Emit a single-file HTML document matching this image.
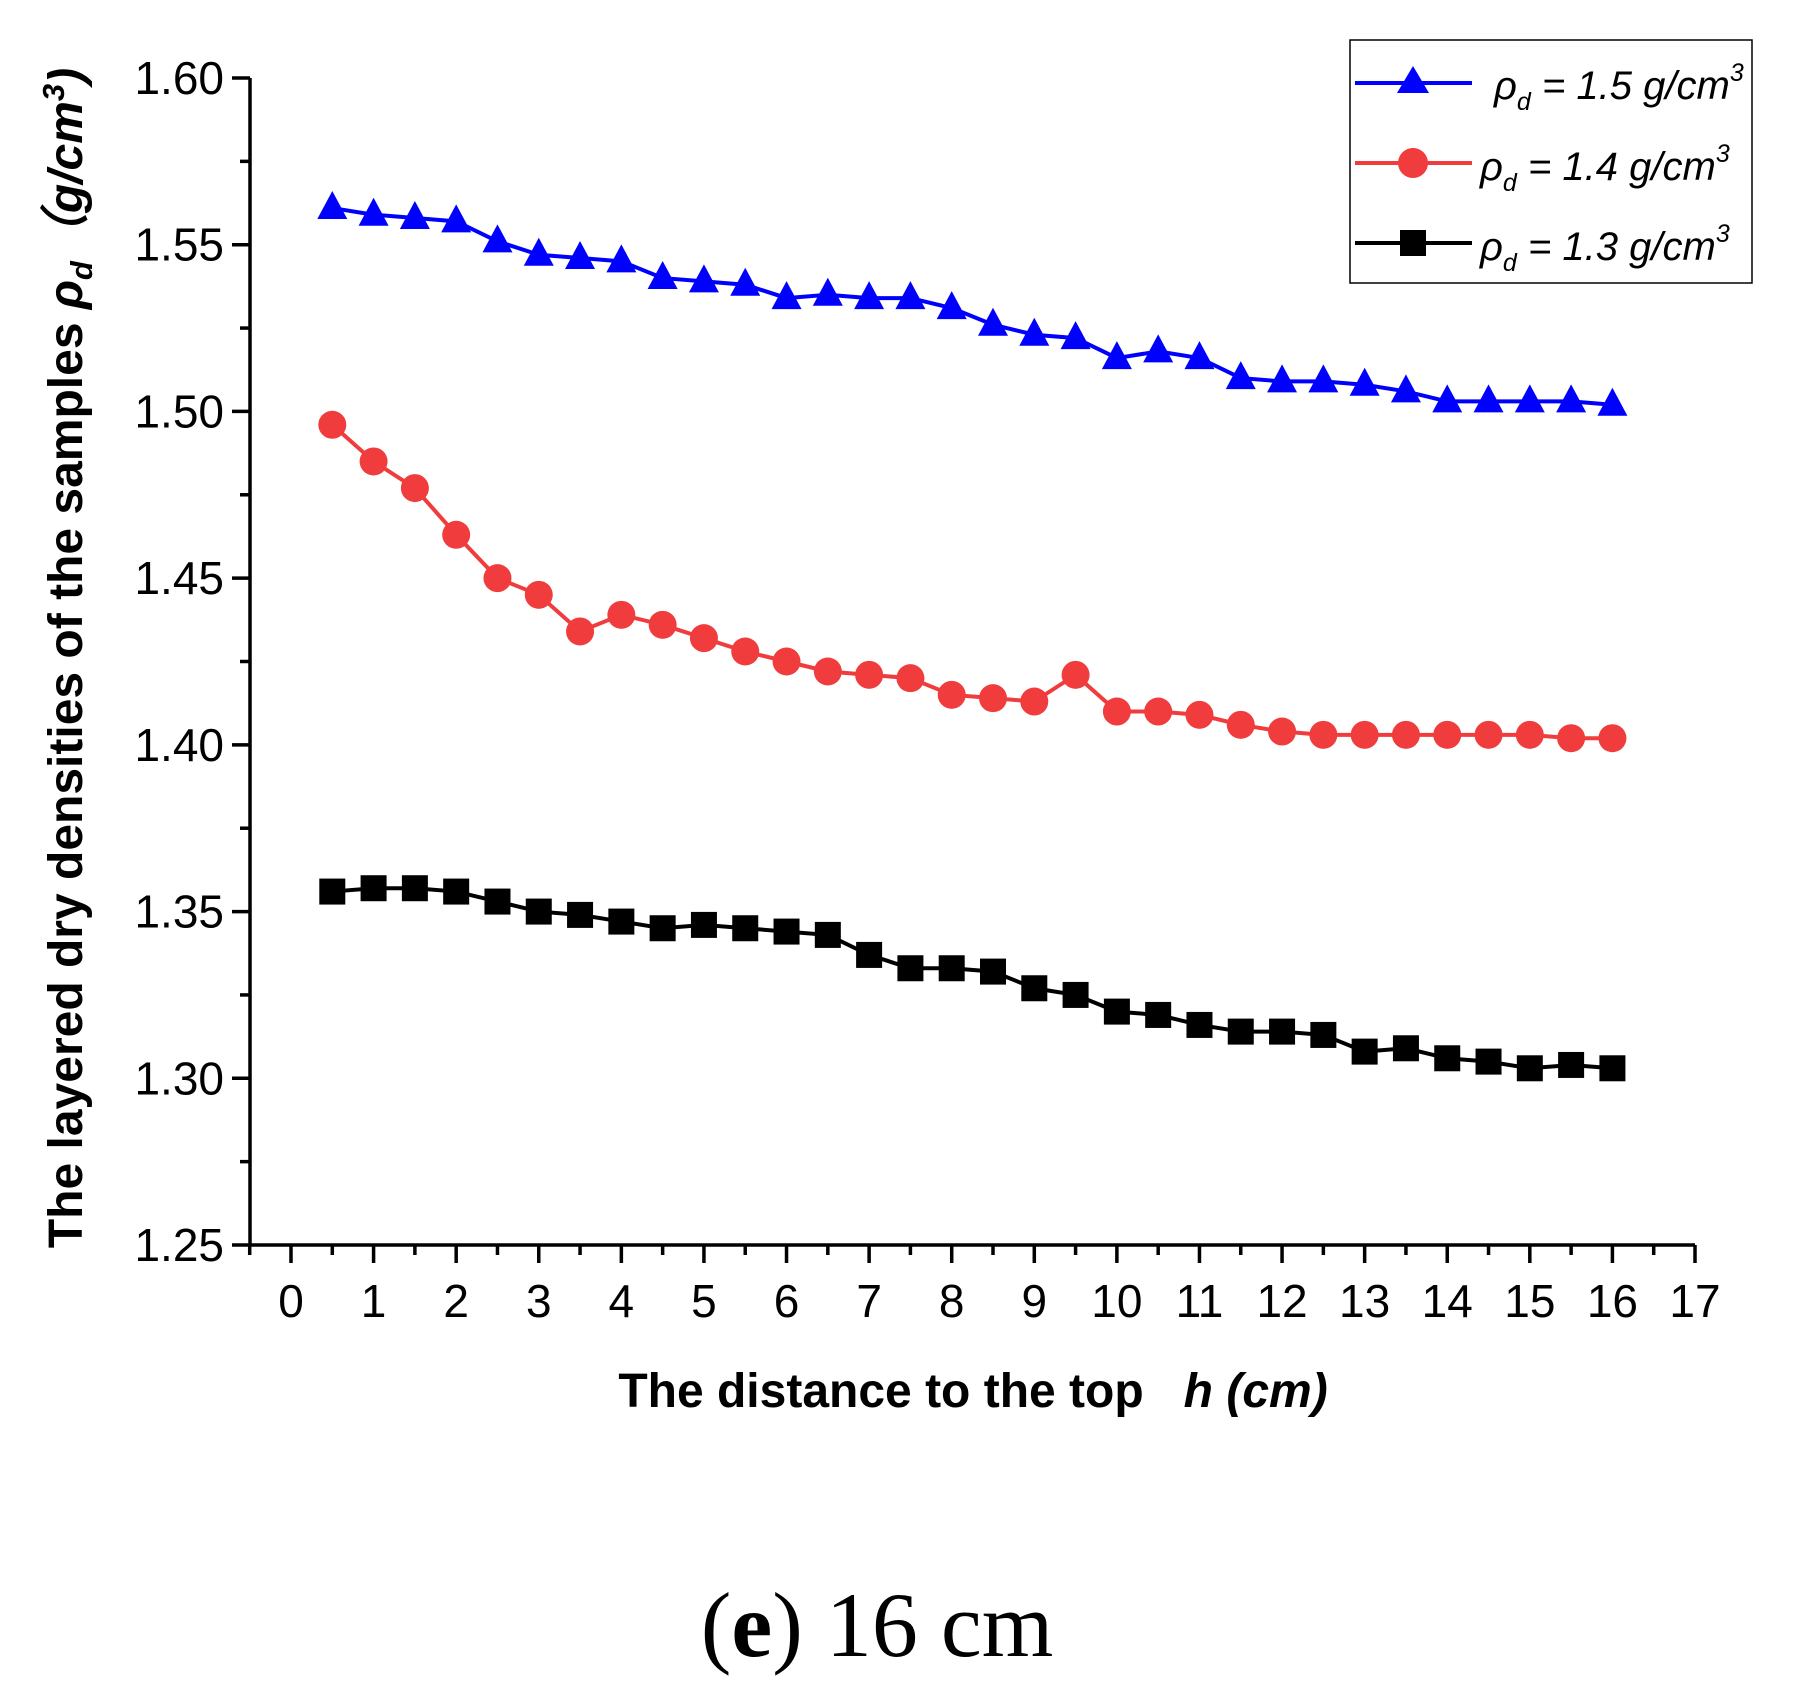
<!DOCTYPE html>
<html><head><meta charset="utf-8"><style>
html,body{margin:0;padding:0;background:#fff;}
svg{display:block;font-family:"Liberation Sans",Arial,sans-serif;}
</style></head><body>
<svg id="chart" width="1804" height="1705" viewBox="0 0 1804 1705">
<g id="axes"></g>
<g id="series"></g>
<text x="0" y="0" transform="translate(82,658) rotate(-90)" text-anchor="middle" font-size="48" font-weight="bold">The layered dry densities of the samples  <tspan font-style="italic">ρ<tspan font-size="31" dy="10">d</tspan></tspan><tspan dy="-10" font-style="italic">（g/cm<tspan font-size="31" dy="-18">3</tspan><tspan dy="18">)</tspan></tspan></text>
<text x="973" y="1407" text-anchor="middle" font-size="48" font-weight="bold" xml:space="preserve">The distance to the top   <tspan font-style="italic">h (cm)</tspan></text>
<text x="877" y="1656" text-anchor="middle" font-size="92" font-family="Liberation Serif,serif">(<tspan font-weight="bold">e</tspan>) 16 cm</text>
<g>
<rect x="1350" y="40" width="402" height="243" fill="#fff" stroke="#000" stroke-width="1.5"/>
<g>
<line x1="1355" y1="83" x2="1472" y2="83" stroke="#0000ff" stroke-width="4"/>
<polygon points="1413,66 1429,93 1397,93" fill="#0000ff"/>
<text x="1494" y="99" font-size="40" font-style="italic">ρ<tspan font-size="25" dy="11">d</tspan><tspan dy="-11"> = 1.5 g/cm</tspan><tspan font-size="25" dy="-18">3</tspan></text></g>
<g>
<line x1="1355" y1="163" x2="1472" y2="163" stroke="#f03c3c" stroke-width="4"/>
<circle cx="1413" cy="163" r="15" fill="#f03c3c"/>
<text x="1480" y="180" font-size="40" font-style="italic">ρ<tspan font-size="25" dy="11">d</tspan><tspan dy="-11"> = 1.4 g/cm</tspan><tspan font-size="25" dy="-18">3</tspan></text></g>
<g>
<line x1="1355" y1="243" x2="1472" y2="243" stroke="#000" stroke-width="4"/>
<rect x="1400" y="230" width="26" height="26" fill="#000"/>
<text x="1480" y="260" font-size="40" font-style="italic">ρ<tspan font-size="25" dy="11">d</tspan><tspan dy="-11"> = 1.3 g/cm</tspan><tspan font-size="25" dy="-18">3</tspan></text></g>
</g>
</svg>
<script>
const xs=[0.5,1,1.5,2,2.5,3,3.5,4,4.5,5,5.5,6,6.5,7,7.5,8,8.5,9,9.5,10,10.5,11,11.5,12,12.5,13,13.5,14,14.5,15,15.5,16];
const s15=[1.561,1.559,1.558,1.557,1.551,1.547,1.546,1.545,1.540,1.539,1.538,1.534,1.535,1.534,1.534,1.531,1.526,1.523,1.522,1.516,1.518,1.516,1.510,1.509,1.509,1.508,1.506,1.503,1.503,1.503,1.503,1.502];
const s14=[1.496,1.485,1.477,1.463,1.450,1.445,1.434,1.439,1.436,1.432,1.428,1.425,1.422,1.421,1.420,1.415,1.414,1.413,1.421,1.410,1.410,1.409,1.406,1.404,1.403,1.403,1.403,1.403,1.403,1.403,1.402,1.402];
const s13=[1.356,1.357,1.357,1.356,1.353,1.350,1.349,1.347,1.345,1.346,1.345,1.344,1.343,1.337,1.333,1.333,1.332,1.327,1.325,1.320,1.319,1.316,1.314,1.314,1.313,1.308,1.309,1.306,1.305,1.303,1.304,1.303];
const xTicks=[0,1,2,3,4,5,6,7,8,9,10,11,12,13,14,15,16,17];
const yTicks=["1.25","1.30","1.35","1.40","1.45","1.50","1.55","1.60"];
const NS="http://www.w3.org/2000/svg";
const X0=250,Y0=1245,XL=291,XR=1695,YT=78;
const xS=v=>XL+(XR-XL)*v/17;
const yS=v=>Y0-(Y0-YT)*(v-1.25)/0.35;
function mk(t,a,p){const e=document.createElementNS(NS,t);for(const k in a)e.setAttribute(k,a[k]);p.appendChild(e);return e;}
const ax=document.getElementById('axes');
const yl=mk('line',{x1:X0,y1:YT,x2:X0,y2:Y0,stroke:'#000','stroke-width':3.5},ax);


const xl=mk('line',{x1:X0,y1:Y0,x2:XR,y2:Y0,stroke:'#000','stroke-width':3.5},ax);


yTicks.forEach(t=>{const y=yS(+t);
mk('line',{x1:X0-18,y1:y,x2:X0,y2:y,stroke:'#000','stroke-width':3.5},ax);
const tx=mk('text',{x:X0-26,y:y+16,'text-anchor':'end','font-size':46},ax);tx.textContent=t;

});
for(let i=0;i<7;i++){const y=yS(1.275+i*0.05);mk('line',{x1:X0-10,y1:y,x2:X0,y2:y,stroke:'#000','stroke-width':3.5},ax);}
xTicks.forEach(t=>{const x=xS(t);
mk('line',{x1:x,y1:Y0,x2:x,y2:Y0+18,stroke:'#000','stroke-width':3.5},ax);
if(t<17)mk('line',{x1:xS(t+0.5),y1:Y0,x2:xS(t+0.5),y2:Y0+10,stroke:'#000','stroke-width':3.5},ax);
const tx=mk('text',{x:x,y:Y0+72,'text-anchor':'middle','font-size':46},ax);tx.textContent=t;

});
mk('line',{x1:xS(-0.5),y1:Y0,x2:xS(-0.5),y2:Y0+10,stroke:'#000','stroke-width':3.5},ax);
const sg=document.getElementById('series');
function series(vals,color,shape,name){
const g=mk('g',{},sg);


mk('polyline',{points:vals.map((v,i)=>xS(xs[i])+','+yS(v)).join(' '),fill:'none',stroke:color,'stroke-width':4},g);
vals.forEach((v,i)=>{const x=xS(xs[i]),y=yS(v);let m;
if(shape==='tri')m=mk('polygon',{points:`${x},${y-17} ${x+15},${y+11} ${x-15},${y+11}`,fill:color},g);
else if(shape==='circ')m=mk('circle',{cx:x,cy:y,r:14,fill:color},g);
else m=mk('rect',{x:x-13,y:y-13,width:26,height:26,fill:color},g);

});}
series(s15,'#0000ff','tri','series-1-5');
series(s14,'#f03c3c','circ','series-1-4');
series(s13,'#000000','sq','series-1-3');
</script>
</body></html>
